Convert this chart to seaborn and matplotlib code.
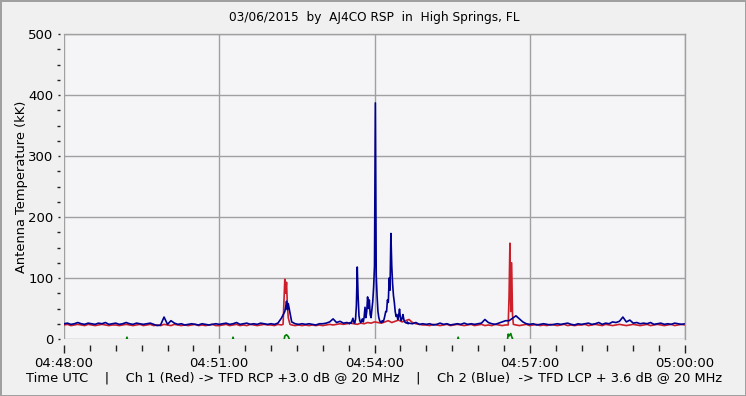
import numpy as np
import pandas as pd
import matplotlib
matplotlib.use("Agg")
import matplotlib.pyplot as plt
import seaborn as sns
from matplotlib.ticker import MultipleLocator, FuncFormatter

# ---------------- data ----------------
START_SEC = 4 * 3600 + 48 * 60          # 04:48:00 UTC
BASE_STEP = 4                           # seconds between baseline samples

# Ch 2 (Blue) baseline, 15 samples per minute (04:48 ... 04:59) + 05:00
blue_base = [
    25, 26, 24, 25, 27, 25, 24, 26, 25, 24, 26, 25, 27, 24, 25,
    26, 24, 25, 27, 25, 24, 26, 25, 24, 25, 26, 24, 22, 23, 36,
    24, 30, 26, 24, 25, 23, 24, 25, 24, 23, 25, 24, 23, 24, 25,
    24, 25, 26, 24, 25, 27, 24, 25, 26, 24, 25, 24, 26, 25, 24,
    25, 24, 26, 34, 45, 58, 28, 25, 24, 25, 24, 25, 24, 23, 25,
    25, 26, 28, 33, 27, 29, 26, 27, 26, 27, 25, 26, 27, 28, 25,
    25, 25, 25, 25, 25, 25, 25, 25, 25, 25, 25, 25, 27, 24, 25,
    24, 25, 23, 24, 26, 24, 25, 23, 24, 25, 24, 26, 24, 25, 24,
    25, 26, 32, 27, 25, 24, 26, 28, 30, 30, 34, 38, 33, 28, 25,
    24, 25, 23, 24, 25, 24, 23, 24, 25, 24, 25, 26, 24, 23, 25,
    24, 25, 26, 24, 25, 27, 24, 26, 25, 28, 27, 29, 36, 28, 31,
    26, 27, 25, 26, 25, 27, 24, 25, 26, 24, 25, 24, 26, 25, 24,
    25,
]

# Ch 2 (Blue) burst around 04:54:00, one sample per second starting at t=330 s
BURST_START = 330
blue_burst = [
    26, 25, 27, 26, 30, 34, 28, 26, 32, 55,
    118, 70, 38, 30, 27, 29, 33, 28, 36, 52,
    35, 45, 69, 50, 64, 40, 35, 48, 62, 85,
    120, 387, 105, 70, 45, 35, 30, 28, 27, 30,
    28, 32, 38, 45, 45, 64, 60, 100, 80, 173,
    120, 90, 71, 60, 45, 37, 40, 32, 38, 49,
    35, 30, 34, 40, 32, 28, 27, 26, 28, 25,
    26,
]
blue_events = {257: 52, 258: 62, 259: 48}

# Ch 1 (Red) baseline
red_base = [
    23, 24, 22, 23, 24, 23, 22, 24, 23, 22, 23, 24, 23, 22, 23,
    23, 22, 23, 24, 23, 22, 23, 24, 22, 23, 24, 22, 23, 22, 24,
    23, 22, 24, 23, 22, 23, 22, 23, 24, 22, 23, 22, 23, 24, 22,
    22, 23, 24, 22, 23, 24, 22, 23, 22, 24, 23, 22, 23, 24, 23,
    23, 22, 24, 23, 24, 24, 23, 22, 23, 22, 23, 22, 23, 22, 23,
    22, 23, 24, 23, 24, 25, 24, 25, 26, 25, 24, 26, 25, 27, 26,
    28, 27, 26, 28, 30, 27, 29, 31, 28, 30, 32, 27, 25, 24, 23,
    23, 22, 24, 23, 22, 23, 24, 22, 23, 24, 23, 22, 23, 24, 22,
    23, 24, 22, 23, 22, 24, 23, 22, 23, 24, 24, 23, 22, 23, 24,
    22, 23, 24, 22, 23, 22, 24, 23, 22, 23, 24, 22, 23, 22, 23,
    23, 24, 22, 23, 24, 23, 22, 24, 23, 22, 23, 24, 23, 22, 23,
    24, 23, 22, 23, 24, 22, 23, 24, 23, 22, 23, 24, 22, 23, 24,
    23,
]
red_events = {254: 24, 255: 60, 256: 98, 257: 75, 258: 93, 259: 55, 260: 35,
              262: 24, 515: 23, 516: 70, 517: 157, 518: 45, 519: 125,
              520: 40, 521: 24}

# Green channel (mostly below the axis)
green_t = [0, 72, 73, 74, 195, 196, 197, 255, 256, 258, 260, 262,
           456, 457, 458, 514, 515, 516, 518, 519, 521, 720]
green_v = [-3, -3, 3, -3, -3, 3, -3, -3, 5, 7, 4, -3,
           -3, 3, -3, -3, 8, 5, 9, 4, -3, -3]

title = "03/06/2015  by  AJ4CO RSP  in  High Springs, FL"
xlabel = ("Time UTC    |    Ch 1 (Red) -> TFD RCP +3.0 dB @ 20 MHz    |    "
          "Ch 2 (Blue)  -> TFD LCP + 3.6 dB @ 20 MHz")
ylabel = "Antenna Temperature (kK)"

# ---------------- assemble ----------------
grid = [i * BASE_STEP for i in range(len(red_base))]

red = dict(zip(grid, red_base))
red.update(red_events)

burst_t = [BURST_START + i for i in range(len(blue_burst))]
blue = {t: v for t, v in zip(grid, blue_base)
        if not (burst_t[0] <= t <= burst_t[-1])}
blue.update(dict(zip(burst_t, blue_burst)))
blue.update(blue_events)

rows = []
for name, d in (("red", red), ("blue", blue)):
    for t in sorted(d):
        rows.append((name, t, d[t]))
for t, v in zip(green_t, green_v):
    rows.append(("green", t, v))
df = pd.DataFrame(rows, columns=["ch", "t", "val"])

# ---------------- plot ----------------
sns.set_theme(style="white")
plt.rcParams["font.family"] = ["DejaVu Sans"]

W, H = 746, 396
fig = plt.figure(figsize=(W / 100, H / 100), dpi=100)
fig.patch.set_facecolor("#F0F0F0")
fig.patch.set_edgecolor("#A0A0A0")
fig.patch.set_linewidth(2)

ax = fig.add_axes([64 / W, 1 - 339 / H, (685 - 64) / W, (339 - 34) / H])
ax.set_facecolor("#F5F5F8")

sns.lineplot(data=df, x="t", y="val", hue="ch",
             hue_order=["red", "blue", "green"],
             palette={"red": "#CC1F2A", "blue": "#000090", "green": "#008000"},
             estimator=None, sort=True, legend=False, lw=1.2, ax=ax)

ax.set_xlim(0, 720)
ax.set_ylim(0, 500)
ax.xaxis.set_major_locator(MultipleLocator(180))
ax.xaxis.set_minor_locator(MultipleLocator(30))
ax.yaxis.set_major_locator(MultipleLocator(100))
ax.yaxis.set_minor_locator(MultipleLocator(25))


def fmt(x, pos):
    s = int(round(x)) + START_SEC
    return f"{s // 3600:02d}:{(s % 3600) // 60:02d}:{s % 60:02d}"


ax.xaxis.set_major_formatter(FuncFormatter(fmt))
ax.grid(True, which="major", color="#A0A0A0", lw=1)
ax.set_axisbelow(True)
for s in ax.spines.values():
    s.set_color("#A0A0A0")
    s.set_linewidth(1)
# detach tick marks from the frame (small gap as in the reference)
ax.spines["left"].set_position(("outward", 3))
ax.spines["bottom"].set_position(("outward", 4))
ax.spines["left"].set_visible(False)
ax.spines["bottom"].set_visible(False)

ax.tick_params(axis="x", which="both", direction="out", bottom=True,
               color="#202020", labelsize=9.5, pad=3, labelcolor="#000000")
ax.tick_params(axis="x", which="major", length=6, width=1)
ax.tick_params(axis="x", which="minor", length=4, width=1)
ax.tick_params(axis="y", which="both", direction="out", left=True,
               color="#202020", labelsize=9.5, pad=3, labelcolor="#000000")
ax.tick_params(axis="y", which="major", length=1.5, width=1)
ax.tick_params(axis="y", which="minor", length=2.5, width=1)

ax.set_xlabel(xlabel, fontsize=9.4, labelpad=1, color="#000000")
ax.set_ylabel(ylabel, fontsize=9.4, labelpad=0.5, color="#000000")
fig.text(0.5 * (64 + 685) / W, 1 - 18 / H, title, ha="center", va="center",
         fontsize=8.7, color="#000000")

fig.savefig("out.png", dpi=100, facecolor=fig.get_facecolor(),
            edgecolor=fig.get_edgecolor())
